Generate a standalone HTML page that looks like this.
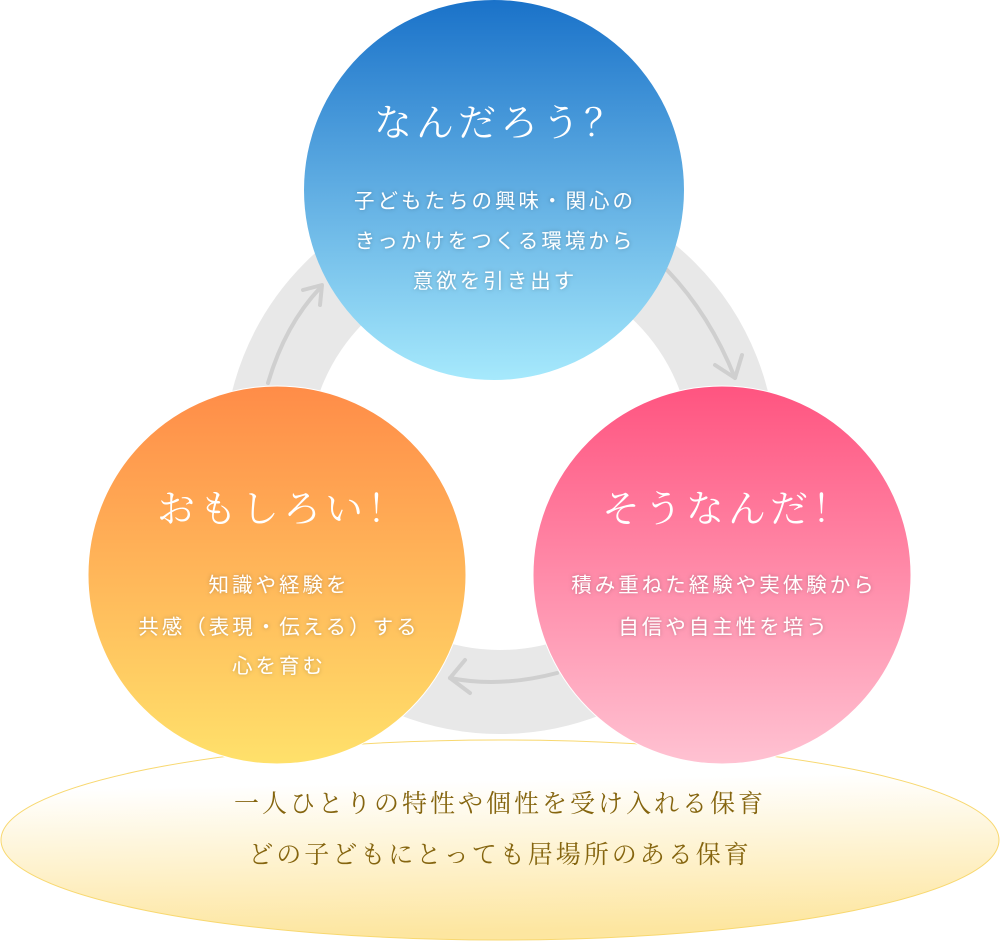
<!DOCTYPE html>
<html><head><meta charset="utf-8"><style>
html,body{margin:0;padding:0;background:#fff;}
svg{display:block}
.t{font-family:"Liberation Serif","Noto Serif CJK SC",serif;fill:#fff;font-size:38px;letter-spacing:4px}
.b{font-family:"Liberation Sans","Noto Sans CJK JP",sans-serif;fill:#fff;font-size:20.5px;letter-spacing:3px}
.e{font-family:"Liberation Serif","Noto Serif CJK SC",serif;fill:#85650f;font-size:25px;letter-spacing:3px}
</style></head><body>
<svg width="1000" height="941" viewBox="0 0 1000 941" xmlns="http://www.w3.org/2000/svg">
<defs>
<linearGradient id="gE" x1="0" y1="0" x2="0.1" y2="1"><stop offset="0.25" stop-color="#fff"/><stop offset="1" stop-color="#fde6a0"/></linearGradient>
<linearGradient id="gT" x1="0" y1="0" x2="0" y2="1"><stop offset="0" stop-color="#1a72c9"/><stop offset="1" stop-color="#a6e9fc"/></linearGradient>
<linearGradient id="gL" x1="0" y1="0" x2="0" y2="1"><stop offset="0" stop-color="#ff8c48"/><stop offset="1" stop-color="#ffe16b"/></linearGradient>
<linearGradient id="gR" x1="0" y1="0" x2="0" y2="1"><stop offset="0" stop-color="#ff5480"/><stop offset="1" stop-color="#ffc2d2"/></linearGradient>
<filter id="sh" x="-10%" y="-30%" width="120%" height="160%"><feDropShadow dx="0" dy="0" stdDeviation="2" flood-color="#000" flood-opacity="0.25"/></filter>
</defs>
<ellipse cx="500" cy="840" rx="499" ry="100" fill="url(#gE)" stroke="#f8d870" stroke-width="1"/>
<circle cx="500" cy="458" r="234" fill="none" stroke="#e8e8e8" stroke-width="84"/>
<g fill="none" stroke="#cfcfcf" stroke-width="4" stroke-linecap="round" stroke-linejoin="round">
<path d="M268 383 Q285 325 320 288"/><path d="M303 290 L322 285 L320 305"/>
<path d="M667 270 Q710 315 735 378"/><path d="M715 365 L735 378 L742 355"/>
<path d="M557 673 Q500 688 450 678"/><path d="M465 660 L450 678 L470 693"/>
</g>
<circle cx="494" cy="190" r="190" fill="url(#gT)"/>
<circle cx="277" cy="575" r="189" fill="url(#gL)" stroke="#fff" stroke-width="1"/>
<circle cx="722" cy="575" r="189" fill="url(#gR)" stroke="#fff" stroke-width="1"/>
<g text-anchor="middle">
<text class="t" x="500" y="136">なんだろう？</text>
<g class="b" filter="url(#sh)">
<text x="495" y="208">子どもたちの興味・関心の</text>
<text x="495" y="248">きっかけをつくる環境から</text>
<text x="495" y="288">意欲を引き出す</text>
</g>
<text class="t" x="283" y="522">おもしろい！</text>
<g class="b" filter="url(#sh)">
<text x="279" y="592">知識や経験を</text>
<text x="279" y="634">共感（表現・伝える）する</text>
<text x="279" y="673">心を育む</text>
</g>
<text class="t" x="728" y="522">そうなんだ！</text>
<g class="b" filter="url(#sh)">
<text x="724" y="592">積み重ねた経験や実体験から</text>
<text x="724" y="634">自信や自主性を培う</text>
</g>
<text class="e" x="500" y="812">一人ひとりの特性や個性を受け入れる保育</text>
<text class="e" x="500" y="863">どの子どもにとっても居場所のある保育</text>
</g>
</svg>
</body></html>
